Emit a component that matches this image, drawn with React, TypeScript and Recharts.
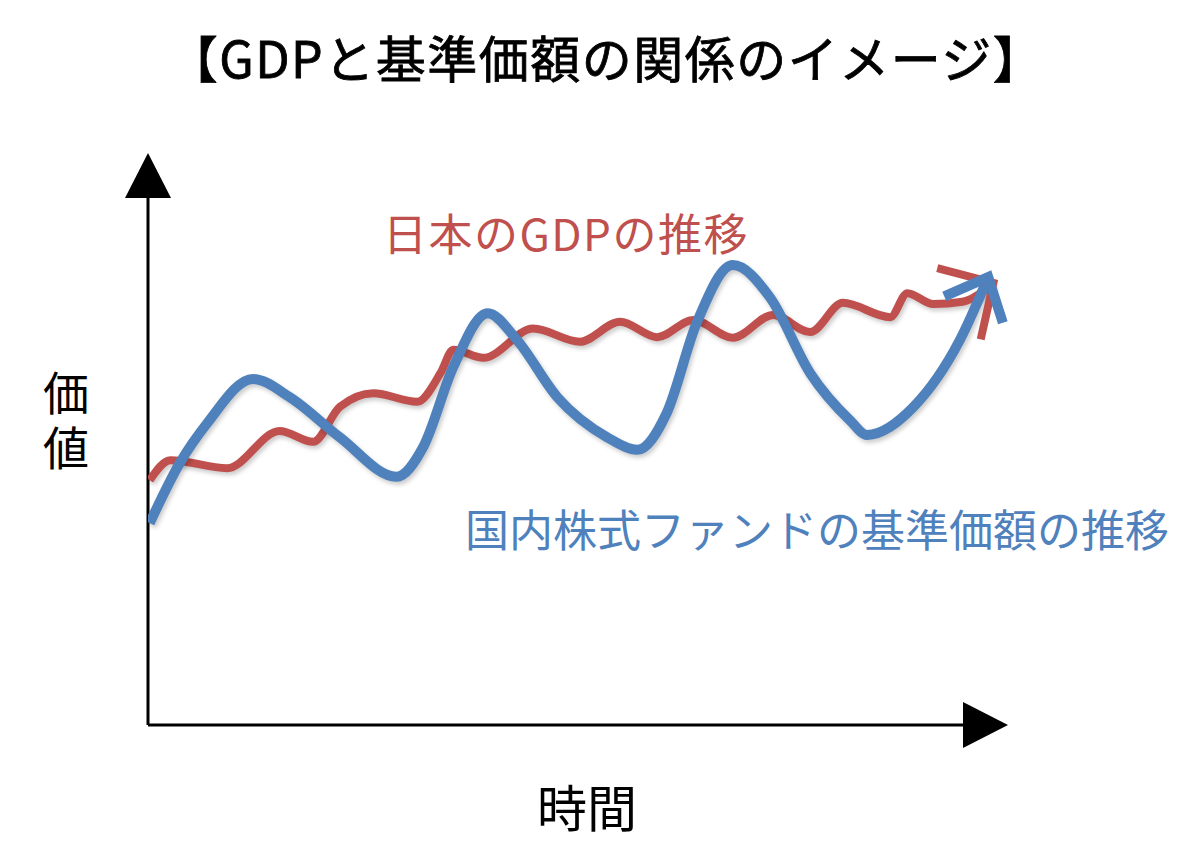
import React from 'react';
import { LineChart, Line, XAxis, YAxis, ReferenceDot, ReferenceLine } from 'recharts';

const CHART_W = 1200;
const CHART_H = 866;
const MARGIN = { top: 153, right: 192, bottom: 141, left: 148 };
const PLOT_W = CHART_W - MARGIN.left - MARGIN.right;
const PLOT_H = CHART_H - MARGIN.top - MARGIN.bottom;

const FONT = '"Noto Sans CJK JP", "Noto Sans", sans-serif';
const GDP_COLOR = '#c0504d';
const FUND_COLOR = '#4f81bd';

// 日本のGDP: gentle wiggles, steady climb
const gdpTime = [0.2, 2.6, 9.2, 15.3, 19.2, 22.3, 26.2, 31.3, 34.0, 35.5, 39.0, 44.8, 50.2, 54.9, 59.2, 63.4, 68.0, 72.7, 77.0, 80.8, 86.3, 88.3, 91.3, 94.7, 98.3];
const gdpValue = [42.8, 46.3, 44.9, 51.4, 49.5, 55.6, 58.0, 56.5, 61.5, 65.6, 64.2, 69.3, 67.0, 70.5, 67.8, 70.8, 67.7, 71.7, 68.7, 73.8, 71.3, 75.5, 73.6, 74.0, 77.3];

// 国内株式ファンドの基準価額: large swings around the same trend
const fundTime = [0.2, 3.7, 6.9, 12.2, 16.5, 22.3, 28.9, 32.0, 35.5, 39.5, 42.9, 47.6, 53.4, 56.9, 60.3, 63.8, 68.0, 72.3, 77.0, 81.6, 83.6, 89.0, 94.4, 97.7];
const fundValue = [35.3, 45.8, 52.8, 60.5, 57.3, 50.3, 43.4, 48.6, 62.6, 72.0, 67.3, 57.3, 50.3, 48.1, 54.5, 70.3, 80.4, 74.8, 61.5, 53.3, 50.7, 55.6, 67.3, 78.3];

const gdpData = gdpTime.map((t, i) => ({ time: t, value: gdpValue[i] }));
const fundData = fundTime.map((t, i) => ({ time: t, value: fundValue[i] }));

// draws an open arrowhead on the last point, aimed along the final segment
const arrowHead = (times: number[], values: number[], color: string, width: number, len: number, spreadDeg: number) =>
  (props: any) => {
    const { cx, cy, index } = props;
    if (index !== times.length - 1) return <g key={`pt-${index}`} />;
    const dx = ((times[index] - times[index - 1]) * PLOT_W) / 100;
    const dy = (-(values[index] - values[index - 1]) * PLOT_H) / 100;
    const a = Math.atan2(dy, dx);
    const spread = (spreadDeg * Math.PI) / 180;
    const b1 = [cx - len * Math.cos(a - spread), cy - len * Math.sin(a - spread)];
    const b2 = [cx - len * Math.cos(a + spread), cy - len * Math.sin(a + spread)];
    return (
      <polyline
        key={`tip-${index}`}
        points={`${b1[0]},${b1[1]} ${cx},${cy} ${b2[0]},${b2[1]}`}
        fill="none"
        stroke={color}
        strokeWidth={width}
        strokeLinejoin="miter"
      />
    );
  };

const upTriangle = (p: any) => (
  <polygon points={`${p.cx},${p.cy} ${p.cx - 23},${p.cy + 45} ${p.cx + 23},${p.cy + 45}`} fill="#000" />
);
const rightTriangle = (p: any) => (
  <polygon points={`${p.cx},${p.cy} ${p.cx - 45},${p.cy - 23} ${p.cx - 45},${p.cy + 23}`} fill="#000" />
);

const lineShadow = { filter: 'drop-shadow(2px 3px 2px rgba(0,0,0,0.2))' };

const text = (style: React.CSSProperties): React.CSSProperties => ({
  position: 'absolute',
  fontFamily: FONT,
  lineHeight: 1,
  whiteSpace: 'nowrap',
  ...style,
});

export default function App() {
  return (
    <div style={{ position: 'absolute', left: 0, top: 0, width: CHART_W, height: CHART_H, background: '#fff' }}>
      <LineChart width={CHART_W} height={CHART_H} margin={MARGIN}>
        <XAxis dataKey="time" type="number" domain={[0, 100]} allowDataOverflow hide />
        <YAxis type="number" domain={[0, 100]} allowDataOverflow hide />
        {/* axes with arrowheads */}
        <ReferenceLine segment={[{ x: 0, y: 0 }, { x: 0, y: 95 }]} stroke="#000" strokeWidth={3} ifOverflow="visible" />
        <ReferenceLine segment={[{ x: 0, y: 0 }, { x: 96, y: 0 }]} stroke="#000" strokeWidth={3} ifOverflow="visible" />
        <ReferenceDot x={0} y={100} ifOverflow="visible" shape={upTriangle} />
        <ReferenceDot x={100} y={0} ifOverflow="visible" shape={rightTriangle} />
        <Line
          data={gdpData}
          dataKey="value"
          type="monotone"
          stroke={GDP_COLOR}
          strokeWidth={8}
          style={lineShadow}
          dot={arrowHead(gdpTime, gdpValue, GDP_COLOR, 8, 58, 46)}
          activeDot={false}
          isAnimationActive={false}
        />
        <Line
          data={fundData}
          dataKey="value"
          type="monotone"
          stroke={FUND_COLOR}
          strokeWidth={10}
          style={lineShadow}
          dot={arrowHead(fundTime, fundValue, FUND_COLOR, 10, 48, 42)}
          activeDot={false}
          isAnimationActive={false}
        />
      </LineChart>

      <div style={text({ left: 606, top: 56, transform: 'translate(-50%, -50%)', fontSize: 50, letterSpacing: 1.5, color: '#000', WebkitTextStroke: '0.8px #000' })}>
        【GDPと基準価額の関係のイメージ】
      </div>
      <div style={text({ left: 383, top: 232, transform: 'translateY(-50%)', fontSize: 44, letterSpacing: 1.5, color: GDP_COLOR })}>
        日本のGDPの推移
      </div>
      <div style={text({ left: 465, top: 528, transform: 'translateY(-50%)', fontSize: 44, color: FUND_COLOR })}>
        国内株式ファンドの基準価額の推移
      </div>
      <div style={text({ left: 66, top: 425, transform: 'translate(-50%, -50%)', fontSize: 46, letterSpacing: 9, writingMode: 'vertical-rl', color: '#000' })}>
        価値
      </div>
      <div style={text({ left: 587, top: 805, transform: 'translate(-50%, -50%)', fontSize: 50, color: '#000' })}>
        時間
      </div>
    </div>
  );
}
